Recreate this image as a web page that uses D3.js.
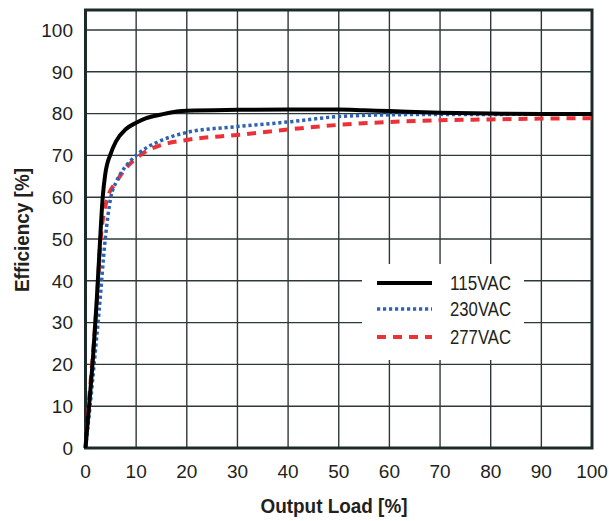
<!DOCTYPE html>
<html>
<head>
<meta charset="utf-8">
<script src="https://cdn.jsdelivr.net/npm/d3@7"></script>
<style>
  body { margin: 0; background: #fff; }
  text { font-family: "Liberation Sans", Arial, sans-serif; fill: #231f20; }
</style>
</head>
<body>
<div id="chart"></div>
<script>
// valeurs
var load115 = [0, 0.7, 1.5, 2.2, 2.8, 3.4, 3.9, 5, 6, 8, 10, 12, 15, 18, 20, 30, 40, 50, 55, 60, 70, 80, 90, 100];
var eff115  = [0, 10, 22, 35, 48, 60, 65.5, 70.5, 73.3, 76.3, 77.8, 78.9, 79.8, 80.5, 80.7, 80.9, 81, 81, 80.8, 80.6, 80.2, 80, 79.9, 79.9];

var load230 = [0, 0.9, 1.7, 2.7, 3.9, 5, 6, 7, 8.5, 10, 12, 15, 20, 30, 40, 50, 60, 70, 80, 90, 100];
var eff230  = [0, 10, 20, 33, 50, 60, 63.5, 65.8, 68.2, 70, 71.8, 73.6, 75.5, 76.9, 78, 79.3, 79.7, 79.8, 79.8, 79.9, 80];

var load277 = [0, 0.6, 1.3, 2.2, 3, 4.4, 6, 8, 10, 12, 15, 20, 30, 40, 50, 60, 70, 80, 90, 100];
var eff277  = [0, 10, 20, 34, 50, 60, 63.5, 67, 69.3, 71, 72.5, 73.7, 74.9, 76.2, 77.3, 78, 78.4, 78.6, 78.8, 78.9];

var xTicks = [0, 10, 20, 30, 40, 50, 60, 70, 80, 90, 100];
var yTicks = [0, 10, 20, 30, 40, 50, 60, 70, 80, 90, 100];
var legendNames = ["115VAC", "230VAC", "277VAC"];

var width = 609, height = 521;
var margin = {left: 85.5, right: 17, top: 10, bottom: 73};

var svg = d3.select("#chart").append("svg")
  .attr("width", width)
  .attr("height", height);

var x = d3.scaleLinear().domain([0, 100]).range([margin.left, width - margin.right]);
var y = d3.scaleLinear().domain([0, 100]).range([448, 30]);

var gridColor = "#2e3838";

// grille
svg.append("g").selectAll("line.v").data(xTicks).enter().append("line")
  .attr("x1", d => x(d)).attr("x2", d => x(d))
  .attr("y1", margin.top).attr("y2", y(0))
  .attr("stroke", gridColor).attr("stroke-width", 1.4);
svg.append("g").selectAll("line.h").data(yTicks).enter().append("line")
  .attr("x1", x(0)).attr("x2", x(100))
  .attr("y1", d => y(d)).attr("y2", d => y(d))
  .attr("stroke", gridColor).attr("stroke-width", 1.4);

// cadre
svg.append("rect")
  .attr("x", x(0)).attr("y", margin.top)
  .attr("width", x(100) - x(0)).attr("height", y(0) - margin.top)
  .attr("fill", "none").attr("stroke", "#1d2a2a").attr("stroke-width", 3);

// etiquettes des axes
svg.append("g").selectAll("text").data(yTicks).enter().append("text")
  .attr("x", 73).attr("y", d => y(d) + 6.8)
  .attr("text-anchor", "end").attr("font-size", 19)
  .text(d => d);
svg.append("g").selectAll("text").data(xTicks).enter().append("text")
  .attr("x", d => x(d)).attr("y", 478)
  .attr("text-anchor", "middle").attr("font-size", 19)
  .text(d => d);

svg.append("text")
  .attr("transform", "translate(29,230) rotate(-90)")
  .attr("text-anchor", "middle").attr("font-size", 20).attr("font-weight", "bold")
  .attr("textLength", 124).attr("lengthAdjust", "spacingAndGlyphs")
  .text("Efficiency [%]");
svg.append("text")
  .attr("x", 334).attr("y", 513)
  .attr("text-anchor", "middle").attr("font-size", 20).attr("font-weight", "bold")
  .attr("textLength", 147).attr("lengthAdjust", "spacingAndGlyphs")
  .text("Output Load [%]");

// courbes
var line = d3.line().x(d => x(d[0])).y(d => y(d[1])).curve(d3.curveMonotoneX);
var series = [
  {pts: d3.zip(load277, eff277), color: "#ec3239", width: 4, dash: "9,7"},
  {pts: d3.zip(load230, eff230), color: "#2d63b3", width: 3.5, dash: "3.2,2.8"},
  {pts: d3.zip(load115, eff115), color: "#000", width: 4, dash: null}
];
svg.append("g").selectAll("path").data(series).enter().append("path")
  .attr("d", d => line(d.pts))
  .attr("fill", "none")
  .attr("stroke", d => d.color)
  .attr("stroke-width", d => d.width)
  .attr("stroke-dasharray", d => d.dash);

// legende
var leg = svg.append("g");
leg.append("rect")
  .attr("x", 362).attr("y", 264).attr("width", 162).attr("height", 96)
  .attr("fill", "#fff");
var legStyles = [series[2], series[1], series[0]];
var legY = [283, 309, 337];
leg.selectAll("line").data(legStyles).enter().append("line")
  .attr("x1", 377).attr("x2", 432)
  .attr("y1", (d, i) => legY[i]).attr("y2", (d, i) => legY[i])
  .attr("stroke", d => d.color)
  .attr("stroke-width", d => d.width)
  .attr("stroke-dasharray", d => d.dash);
leg.selectAll("text").data(legendNames).enter().append("text")
  .attr("x", 450).attr("y", (d, i) => legY[i] + 7.4)
  .attr("font-size", 20.5)
  .attr("textLength", 61).attr("lengthAdjust", "spacingAndGlyphs")
  .text(d => d);
</script>
</body>
</html>
